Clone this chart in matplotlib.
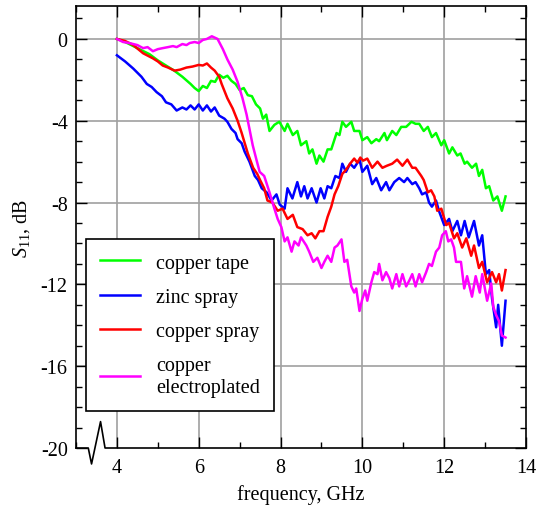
import numpy as np
import matplotlib
matplotlib.use('Agg')
import matplotlib.pyplot as plt
from matplotlib.ticker import MultipleLocator

plt.rcParams['font.family'] = 'Liberation Serif'
plt.rcParams['mathtext.fontset'] = 'custom'
plt.rcParams['mathtext.rm'] = 'Liberation Serif'
plt.rcParams['mathtext.it'] = 'Liberation Serif:italic'
plt.rcParams['axes.unicode_minus'] = False

#copper tape
f_tape = [4.0, 4.2, 4.4, 4.6, 4.8, 5.0, 5.2, 5.4, 5.6, 5.8,
          5.9, 6.0, 6.1, 6.2, 6.3, 6.4, 6.5, 6.6, 6.7, 6.8,
          6.9, 7.0, 7.1, 7.2, 7.3, 7.4, 7.5, 7.57, 7.65, 7.73,
          7.85, 7.97, 8.1, 8.17, 8.3, 8.41, 8.5, 8.63, 8.7, 8.78,
          8.88, 8.95, 9.05, 9.15, 9.24, 9.37, 9.44, 9.51, 9.6, 9.73,
          9.8, 9.93, 10.0, 10.12, 10.22, 10.34, 10.41, 10.54, 10.6, 10.73,
          10.83, 10.95, 11.07, 11.2, 11.3, 11.39, 11.5, 11.6, 11.7, 11.8,
          11.93, 12.0, 12.12, 12.2, 12.32, 12.4, 12.5, 12.56, 12.68, 12.78,
          12.85, 12.93, 13.02, 13.1, 13.2, 13.3, 13.41, 13.5]
s_tape = [0.0, -0.15, -0.35, -0.55, -0.75, -1.05, -1.3, -1.55, -1.85, -2.2,
          -2.4, -2.55, -2.3, -2.4, -2.05, -2.1, -1.75, -1.9, -1.8, -2.05,
          -2.2, -2.5, -2.4, -2.75, -2.8, -3.2, -3.4, -3.9, -3.7, -4.5,
          -4.2, -4.05, -4.5, -4.15, -4.7, -4.5, -5.2, -5.0, -5.6, -5.4,
          -6.1, -5.7, -6.0, -5.4, -5.4, -4.6, -4.7, -4.05, -4.3, -4.05,
          -4.5, -4.5, -4.95, -4.8, -5.1, -4.9, -5.0, -4.6, -4.95, -4.5,
          -4.7, -4.3, -4.3, -4.05, -4.15, -4.15, -4.5, -4.3, -4.8, -4.6,
          -5.2, -4.95, -5.6, -5.3, -5.7, -5.6, -6.1, -6.0, -6.3, -6.1,
          -6.7, -6.4, -7.3, -7.2, -7.9, -7.7, -8.4, -7.7]

#zinc spray
f_zinc = [4.0, 4.2, 4.4, 4.6, 4.73, 4.85, 4.97, 5.1, 5.2, 5.33,
          5.46, 5.6, 5.7, 5.8, 5.9, 6.0, 6.1, 6.2, 6.3, 6.39,
          6.5, 6.63, 6.7, 6.8, 6.9, 6.95, 7.05, 7.12, 7.24, 7.37,
          7.45, 7.54, 7.66, 7.78, 7.9, 7.98, 8.1, 8.17, 8.29, 8.41,
          8.5, 8.58, 8.66, 8.76, 8.88, 8.98, 9.07, 9.15, 9.24, 9.34,
          9.44, 9.51, 9.6, 9.7, 9.8, 9.93, 10.0, 10.12, 10.24, 10.34,
          10.46, 10.58, 10.66, 10.78, 10.9, 11.02, 11.1, 11.22, 11.3, 11.39,
          11.46, 11.56, 11.63, 11.7, 11.8, 11.88, 12.0, 12.12, 12.2, 12.32,
          12.41, 12.5, 12.6, 12.73, 12.85, 12.93, 13.02, 13.1, 13.17, 13.27,
          13.32, 13.41, 13.5]
s_zinc = [-0.8, -1.1, -1.45, -1.85, -2.2, -2.35, -2.6, -2.8, -3.1, -3.2,
          -3.5, -3.35, -3.45, -3.25, -3.45, -3.2, -3.5, -3.25, -3.55, -3.35,
          -3.75, -3.9, -4.05, -4.4, -4.6, -4.9, -5.1, -5.5, -6.0, -6.7,
          -6.9, -7.3, -7.5, -7.9, -7.6, -8.1, -8.3, -7.3, -7.8, -7.0,
          -7.7, -7.2, -7.8, -7.3, -8.0, -7.3, -7.8, -7.2, -7.3, -6.7,
          -6.8, -6.1, -6.5, -6.1, -6.3, -5.9, -6.5, -6.2, -7.1, -6.8,
          -7.4, -7.0, -7.4, -7.0, -6.8, -7.0, -6.8, -7.1, -7.0, -7.3,
          -7.6, -7.5, -8.0, -8.2, -7.9, -8.45, -9.1, -8.8, -9.4, -8.9,
          -9.6, -8.9, -9.7, -8.9, -10.1, -9.6, -11.5, -11.3, -12.7, -14.1,
          -13.0, -15.0, -12.8]

#copper spray
f_cuspray = [4.0, 4.2, 4.4, 4.64, 4.88, 5.0, 5.12, 5.25, 5.41, 5.55,
             5.7, 5.85, 6.0, 6.1, 6.2, 6.3, 6.39, 6.5, 6.56, 6.7,
             6.83, 6.95, 7.05, 7.2, 7.33, 7.43, 7.5, 7.6, 7.68, 7.8,
             7.93, 8.05, 8.17, 8.3, 8.41, 8.54, 8.66, 8.76, 8.85, 8.95,
             9.05, 9.15, 9.24, 9.32, 9.41, 9.51, 9.6, 9.7, 9.8, 9.88,
             9.95, 10.02, 10.12, 10.24, 10.37, 10.49, 10.6, 10.73, 10.85, 10.98,
             11.1, 11.22, 11.3, 11.44, 11.5, 11.6, 11.68, 11.76, 11.83, 11.93,
             12.05, 12.12, 12.24, 12.32, 12.44, 12.54, 12.66, 12.73, 12.85, 12.93,
             13.05, 13.17, 13.27, 13.34, 13.41, 13.5]
s_cuspray = [0.0, -0.1, -0.3, -0.7, -0.95, -1.1, -1.3, -1.4, -1.55, -1.5,
             -1.4, -1.35, -1.27, -1.3, -1.2, -1.4, -1.55, -1.85, -2.2, -2.9,
             -3.4, -4.0, -4.6, -5.6, -6.3, -6.6, -6.9, -7.3, -7.9, -8.0,
             -8.4, -8.3, -8.8, -8.6, -9.2, -9.3, -9.6, -9.5, -9.75, -9.4,
             -9.4, -8.7, -8.2, -7.6, -7.2, -6.6, -6.4, -6.1, -5.85, -6.05,
             -5.8, -5.95, -5.85, -6.3, -6.0, -6.3, -6.2, -6.1, -5.9, -6.2,
             -5.9, -6.3, -6.3, -6.7, -6.9, -7.5, -7.4, -7.7, -8.4, -8.3,
             -9.1, -9.0, -9.75, -9.5, -10.2, -9.75, -10.6, -10.1, -11.2, -10.9,
             -11.9, -11.4, -11.9, -11.5, -12.3, -11.3]

#copper electroplated
f_elec = [4.0, 4.15, 4.3, 4.5, 4.64, 4.75, 4.88, 5.0, 5.12, 5.25,
          5.37, 5.46, 5.6, 5.7, 5.78, 5.9, 6.0, 6.1, 6.2, 6.32,
          6.46, 6.59, 6.7, 6.83, 6.95, 7.07, 7.17, 7.24, 7.32, 7.41,
          7.49, 7.6, 7.73, 7.85, 7.93, 8.02, 8.1, 8.17, 8.27, 8.34,
          8.44, 8.5, 8.63, 8.7, 8.8, 8.9, 9.0, 9.07, 9.15, 9.24,
          9.32, 9.39, 9.49, 9.56, 9.63, 9.73, 9.8, 9.85, 9.93, 10.0,
          10.07, 10.12, 10.22, 10.29, 10.37, 10.41, 10.49, 10.58, 10.66, 10.73,
          10.83, 10.9, 10.98, 11.07, 11.15, 11.22, 11.3, 11.39, 11.46, 11.56,
          11.63, 11.7, 11.8, 11.88, 11.95, 12.04, 12.1, 12.17, 12.24, 12.29,
          12.41, 12.49, 12.56, 12.68, 12.77, 12.87, 12.93, 13.05, 13.15, 13.2,
          13.27, 13.34, 13.41, 13.5]
s_elec = [0.0, -0.15, -0.2, -0.3, -0.45, -0.4, -0.6, -0.5, -0.45, -0.4,
          -0.35, -0.4, -0.25, -0.3, -0.2, -0.15, -0.2, -0.05, 0.0, 0.13,
          0.0, -0.5, -1.0, -1.5, -2.1, -2.9, -3.7, -4.4, -5.2, -5.9,
          -6.5, -6.7, -7.5, -8.3, -8.8, -9.2, -9.9, -9.7, -10.4, -9.9,
          -10.1, -9.7, -10.1, -10.4, -10.9, -10.7, -11.2, -10.9, -10.6, -10.9,
          -10.2, -10.1, -9.8, -10.9, -10.8, -12.1, -12.4, -12.2, -13.3, -12.7,
          -12.3, -12.8, -11.9, -11.4, -11.5, -11.0, -11.8, -11.4, -11.7, -12.2,
          -11.5, -12.1, -11.5, -12.1, -11.8, -11.5, -12.1, -11.5, -11.9, -11.4,
          -11.0, -11.1, -10.4, -10.2, -9.6, -9.4, -9.9, -9.8, -10.2, -10.9,
          -10.9, -12.2, -11.6, -12.6, -11.6, -12.4, -11.5, -12.8, -11.95, -13.1,
          -13.5, -13.8, -14.5, -14.6]

fig = plt.figure(figsize=(5.36, 5.10), dpi=100)
ax = fig.add_axes([76/536, 1-449/510, 450/536, 442/510])

for v in [4, 6, 8, 10, 12]:
    ax.axvline(v, color='#a0a0a0', lw=1.2, zorder=0)
for v in [0, -4, -8, -12, -16]:
    ax.axhline(v, color='#a0a0a0', lw=1.2, zorder=0)

ax.plot(f_tape, s_tape, color='#00ff00', lw=1.8, label='copper tape')
ax.plot(f_zinc, s_zinc, color='#0000ff', lw=1.8, label='zinc spray')
ax.plot(f_cuspray, s_cuspray, color='#ff0000', lw=1.8, label='copper spray')
ax.plot(f_elec, s_elec, color='#ff00ff', lw=1.8, label='copper\nelectroplated')

ax.set_xlim(3, 14)
ax.set_ylim(-20, 1.61)
ax.xaxis.set_major_locator(MultipleLocator(2))
ax.xaxis.set_minor_locator(MultipleLocator(1))
ax.yaxis.set_major_locator(MultipleLocator(4))
ax.yaxis.set_minor_locator(MultipleLocator(1))
ax.tick_params(which='both', direction='in', top=True, right=True, width=1.0, labelsize=14.5)
ax.tick_params(which='major', length=8)
ax.tick_params(which='minor', length=4.5)
ax.tick_params(axis='y', pad=6)
ax.tick_params(axis='x', pad=7)
for s in ax.spines.values():
    s.set_linewidth(1.2)

#axis break on bottom spine
ax.spines['bottom'].set_visible(False)
ax.plot([3.0, 3.30, 3.38, 3.60, 3.71, 14.0], [-20, -20, -20.78, -18.71, -20, -20],
        color='k', lw=1.2, clip_on=False, zorder=5)

ax.set_xlabel('frequency, GHz', fontsize=14.5, labelpad=5)
ax.set_ylabel(r'$S_{11}$, dB', fontsize=14.5, labelpad=6)

leg = ax.legend(loc='upper left', bbox_to_anchor=(0.022, 0.473), borderaxespad=0,
                fontsize=14.5, handlelength=1.95, handletextpad=0.8, labelspacing=0.75,
                fancybox=False, framealpha=1, edgecolor='k', borderpad=0.72)
leg.get_frame().set_linewidth(1.2)

fig.savefig('out.png', dpi=100)
